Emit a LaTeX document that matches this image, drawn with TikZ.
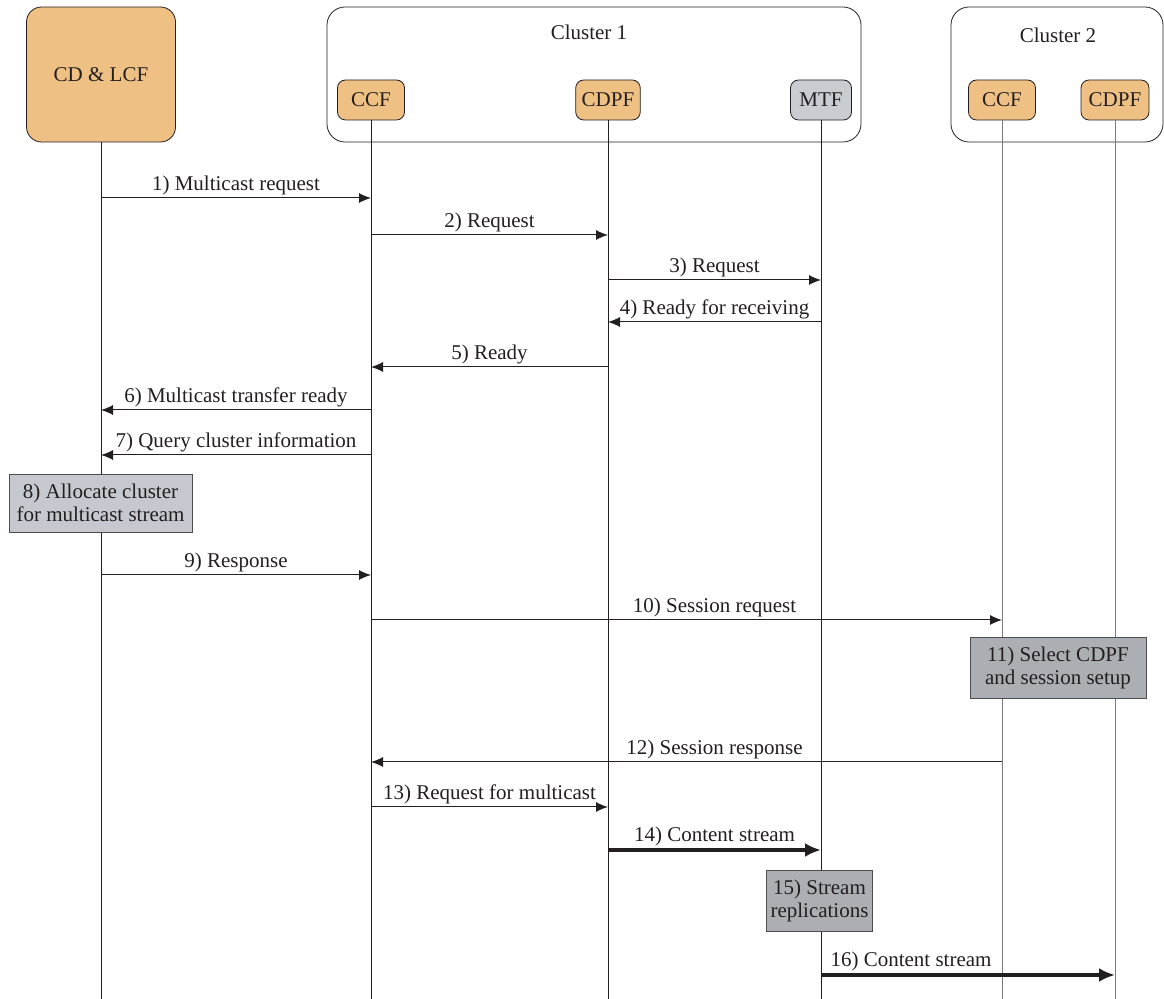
\documentclass[tikz,border=0pt]{standalone}
\usepackage{fontspec}
\setmainfont{Liberation Serif}
\usetikzlibrary{arrows.meta}
\definecolor{funcorange}{HTML}{EFC084}
\definecolor{mtfgray}{HTML}{C9CCD1}
\definecolor{lightgray}{HTML}{C5C8CE}
\definecolor{darkgray}{HTML}{ABAEB3}
\definecolor{ink}{HTML}{231F20}
\tikzset{
  func/.style={draw=ink, fill=funcorange, rounded corners=4pt, minimum height=20pt, inner xsep=3pt},
  cluster/.style={draw=ink, rounded corners=9pt, minimum height=67.5pt},
  proc/.style={draw=ink!80, fill=lightgray, align=center, inner sep=2pt},
  life/.style={draw=ink, line width=0.5pt},
  msg/.style={draw=ink, line width=0.5pt, -{Latex[length=6pt,width=5pt]}},
  stream/.style={draw=ink, line width=1.6pt, -{Latex[length=8pt,width=7pt]}},
  lbl/.style={above, yshift=-2pt}
}
\begin{document}
\begin{tikzpicture}[x=0.5pt, y=-0.5pt, font=\fontsize{10.5}{11.5}\selectfont, text=ink]
    \useasboundingbox (0,0) rectangle (1164,999);

    % boxes on top
    \node[func, rounded corners=7.5pt, minimum width=74.5pt, minimum height=67.5pt] (cd) at (101,74.5) {CD \& LCF};
    \node[cluster, minimum width=267pt] (cl1) at (594,74.5) {};
    \node at (589,32) {Cluster 1};
    \node[cluster, minimum width=106pt] (cl2) at (1057,74.5) {};
    \node at (1058,35) {Cluster 2};
    \node[func, minimum width=33.5pt] (ccf) at (371,100) {CCF};
    \node[func, minimum width=30pt] (cdpf) at (608,100) {CDPF};
    \node[func, fill=mtfgray, minimum width=30.5pt] (mtf) at (821,100) {MTF};
    \node[func, minimum width=33.5pt] (ccfb) at (1002,100) {CCF};
    \node[func, minimum width=34pt] (cdpfb) at (1115,100) {CDPF};

    % lifelines
    \coordinate (cd-e) at (101,999);
    \coordinate (ccf-e) at (371,999);
    \coordinate (cdpf-e) at (608,999);
    \coordinate (mtf-e) at (821,999);
    \coordinate (ccfb-e) at (1002,999);
    \coordinate (cdpfb-e) at (1115,999);
    \draw[life] (cd) -- (cd-e);
    \draw[life] (ccf) -- (ccf-e);
    \draw[life] (cdpf) -- (cdpf-e);
    \draw[life] (mtf) -- (mtf-e);
    \draw[life, draw=ink!60] (ccfb) -- (ccfb-e);
    \draw[life, draw=ink!60] (cdpfb) -- (cdpfb-e);

    % messages
    \draw[msg] (cd |- 0,198) -- node[lbl] {1) Multicast request} (ccf |- 0,198);
    \draw[msg] (ccf |- 0,235) -- node[lbl] {2) Request} (cdpf |- 0,235);
    \draw[msg] (cdpf |- 0,280) -- node[lbl] {3) Request} (mtf |- 0,280);
    \draw[msg] (mtf |- 0,322) -- node[lbl] {4) Ready for receiving} (cdpf |- 0,322);
    \draw[msg] (cdpf |- 0,367) -- node[lbl] {5) Ready} (ccf |- 0,367);
    \draw[msg] (ccf |- 0,410) -- node[lbl] {6) Multicast transfer ready} (cd |- 0,410);
    \draw[msg] (ccf |- 0,455) -- node[lbl] {7) Query cluster information} (cd |- 0,455);
    \node[proc, minimum width=91.5pt, minimum height=29pt] (alloc) at (100.5,503) {8) Allocate cluster\\for multicast stream};
    \draw[msg] (cd |- 0,575) -- node[lbl] {9) Response} (ccf |- 0,575);
    \draw[msg] (ccf |- 0,620) -- node[lbl, xshift=14pt] {10) Session request} (ccfb |- 0,620);
    \node[proc, fill=darkgray, minimum width=88pt, minimum height=30.5pt] (select) at (1058,667.5) {11) Select CDPF\\and session setup};
    \draw[msg] (ccfb |- 0,762) -- node[lbl, xshift=14pt] {12) Session response} (ccf |- 0,762);
    \draw[msg] (ccf |- 0,807) -- node[lbl] {13) Request for multicast} (cdpf |- 0,807);
    \draw[stream] (cdpf |- 0,850) -- node[lbl] {14) Content stream} (mtf |- 0,850);
    \node[proc, fill=darkgray, minimum width=50.5pt, minimum height=30.5pt] (repl) at (819.5,900.5) {15) Stream\\replications};
    \draw[stream] (mtf |- 0,975) -- node[lbl, xshift=-28.5pt] {16) Content stream} (cdpfb |- 0,975);
\end{tikzpicture}
\end{document}
